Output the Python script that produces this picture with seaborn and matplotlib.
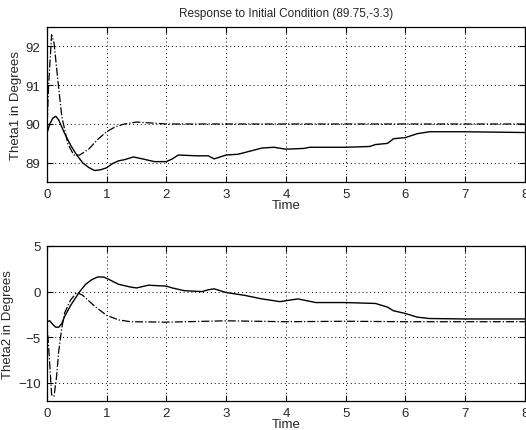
import matplotlib
matplotlib.use("Agg")
import matplotlib.pyplot as plt
import seaborn as sns
import pandas as pd

# Theta1 (top panel)
t1_solid = [0, 0.05, 0.1, 0.15, 0.2, 0.3, 0.4, 0.5, 0.6, 0.7, 0.8, 0.9, 1.0, 1.1, 1.2, 1.3, 1.45,
            1.6, 1.8, 2.0, 2.1, 2.2, 2.5, 2.7, 2.8, 3.0, 3.2, 3.4, 3.6, 3.8, 4.0, 4.3, 4.4,
            5.0, 5.4, 5.5, 5.7, 5.8, 6.0, 6.2, 6.4, 7.0, 8.0]
theta1_solid = [89.75, 90.0, 90.15, 90.2, 90.1, 89.75, 89.45, 89.2, 89.0, 88.88, 88.8, 88.82, 88.87,
                88.98, 89.05, 89.08, 89.15, 89.1, 89.03, 89.03, 89.1, 89.2, 89.18, 89.18, 89.1, 89.2,
                89.22, 89.3, 89.38, 89.4, 89.35, 89.37, 89.4, 89.4, 89.42, 89.47, 89.5, 89.62, 89.65,
                89.75, 89.8, 89.8, 89.78]
t1_dash = [0, 0.03, 0.08, 0.12, 0.18, 0.25, 0.35, 0.45, 0.55, 0.7, 0.85, 1.0, 1.15, 1.3, 1.5,
           1.8, 2.0, 3.0, 4.0, 5.0, 6.0, 7.0, 8.0]
theta1_dash = [89.75, 91.0, 92.3, 92.1, 91.2, 90.2, 89.5, 89.2, 89.2, 89.35, 89.6, 89.8, 89.93,
               90.0, 90.05, 90.02, 90.0, 90.0, 90.0, 90.0, 90.0, 90.0, 90.0]

# Theta2 (bottom panel)
t2_solid = [0, 0.05, 0.1, 0.15, 0.2, 0.25, 0.3, 0.4, 0.5, 0.55, 0.65, 0.75, 0.85, 0.95, 1.05,
            1.2, 1.4, 1.5, 1.7, 2.0, 2.1, 2.3, 2.6, 2.7, 2.8, 3.0, 3.3, 3.6, 3.9, 4.0, 4.2,
            4.5, 5.0, 5.5, 5.7, 5.8, 6.0, 6.2, 6.4, 7.0, 8.0]
theta2_solid = [-3.3, -3.2, -3.6, -3.9, -3.9, -3.5, -2.7, -1.5, -0.5, 0.0, 0.8, 1.3, 1.6, 1.6, 1.3,
                0.8, 0.5, 0.4, 0.7, 0.6, 0.4, 0.1, 0.0, 0.2, 0.3, -0.1, -0.4, -0.8, -1.1, -1.0, -0.8,
                -1.2, -1.2, -1.3, -1.7, -2.1, -2.4, -2.8, -2.95, -3.0, -3.0]
t2_dash = [0, 0.04, 0.08, 0.12, 0.16, 0.2, 0.25, 0.3, 0.4, 0.5, 0.6, 0.7, 0.8, 0.9, 1.0, 1.2,
           1.4, 2.0, 3.0, 4.0, 5.0, 6.0, 7.0, 8.0]
theta2_dash = [-3.3, -7.0, -11.3, -11.5, -9.5, -6.5, -4.0, -2.3, -0.9, -0.1, -0.4, -1.0, -1.6, -2.1,
               -2.6, -3.1, -3.3, -3.35, -3.2, -3.3, -3.25, -3.3, -3.3, -3.3]

sns.set_style("white")
plt.rcParams["font.family"] = ["Liberation Sans", "DejaVu Sans"]
plt.rcParams["xtick.direction"] = "in"
plt.rcParams["ytick.direction"] = "in"

fig = plt.figure(figsize=(5.26, 4.31), dpi=100)
ax1 = fig.add_axes([0.089, 0.575, 0.909, 0.36])
ax2 = fig.add_axes([0.089, 0.067, 0.909, 0.36])

top_solid = pd.DataFrame({"t": t1_solid, "v": theta1_solid})
top_dash = pd.DataFrame({"t": t1_dash, "v": theta1_dash})
bot_solid = pd.DataFrame({"t": t2_solid, "v": theta2_solid})
bot_dash = pd.DataFrame({"t": t2_dash, "v": theta2_dash})

for ax, solid, dash in [(ax1, top_solid, top_dash), (ax2, bot_solid, bot_dash)]:
    sns.lineplot(data=solid, x="t", y="v", ax=ax, color="black", linewidth=1.0)
    sns.lineplot(data=dash, x="t", y="v", ax=ax, color="black", linewidth=0.9, linestyle="-.")
    ax.set_xlim(0, 8)
    ax.set_xticks(range(0, 9))
    ax.grid(True, linestyle=(0, (1, 3)), color="black", linewidth=0.7)
    for s in ax.spines.values():
        s.set_color("black")
        s.set_linewidth(0.9)
    ax.tick_params(labelsize=9.5, length=4, color="black", pad=4.5,
                   top=True, right=True, bottom=True, left=True)
    ax.set_xlabel("Time", fontsize=9.5, labelpad=-1)

ax1.set_ylim(88.5, 92.5)
ax1.set_yticks([89, 90, 91, 92])
ax1.set_ylabel("Theta1 in Degrees", fontsize=9.5, labelpad=3)
ax1.set_title("Response to Initial Condition (89.75,-3.3)", fontsize=8.5, pad=8)

ax2.set_ylim(-12, 5)
ax2.set_yticks([-10, -5, 0, 5])
ax2.set_ylabel("Theta2 in Degrees", fontsize=9.5, labelpad=3)

fig.savefig("out.png", dpi=100)
